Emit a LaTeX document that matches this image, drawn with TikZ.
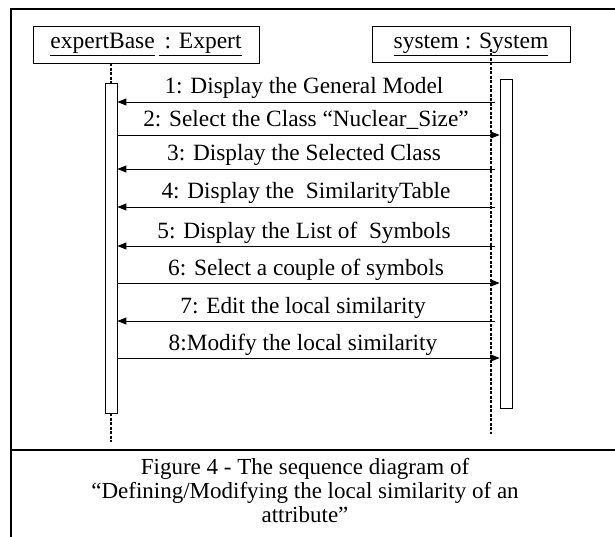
\documentclass[tikz,border=0pt]{standalone}
\usepackage{fontspec}
\setmainfont{Liberation Serif}
\usepackage{tikz}
\usetikzlibrary{arrows.meta,positioning}

\begin{document}
\begin{tikzpicture}[
  x=1pt, y=-1pt,
  objbox/.style={draw, line width=0.8pt, inner sep=0pt, font=\fontsize{23.5}{26}\selectfont},
  actbar/.style={draw, line width=0.8pt, minimum width=12pt, inner sep=0pt},
  lifeline/.style={line width=1.1pt, dash pattern=on 3pt off 1.5pt},
  msg/.style={line width=0.9pt, -{Triangle[length=9pt,width=7pt]}},
  lbl/.style={anchor=base, inner sep=0pt, font=\fontsize{23.3}{26}\selectfont},
  frameline/.style={line width=2pt},
  captext/.style={anchor=north, align=center, inner sep=0pt, font=\fontsize{23}{24}\selectfont}
]
\useasboundingbox (0,0) rectangle (615,537);

% objects
\node[objbox, minimum width=226pt, minimum height=37pt] (expbox) at (146,44.5) {\underline{expertBase}\,\underline{ : Expert}};
\node[objbox, minimum width=198pt, minimum height=36pt] (sysbox) at (471,44) {\underline{system : System}};

% activation bars
\node[actbar, minimum height=330pt] (expbar) at (111,248) {};
\node[actbar, minimum height=329pt] (sysbar) at (506,243.5) {};

% lifelines
\coordinate (expend) at (111,442);
\coordinate (systop) at (491,49);
\coordinate (sysend) at (491,434);
\draw[lifeline] (expbox.south -| expbar) -- (expbar.north);
\draw[lifeline] (expbar.south) -- (expend);
\draw[lifeline] (systop) -- (sysend);

% messages
\coordinate (m1) at (495,102);
\coordinate (m2) at (117,135);
\coordinate (m3) at (495,169);
\coordinate (m4) at (495,207);
\coordinate (m5) at (495,246);
\coordinate (m6) at (117,283);
\coordinate (m7) at (495,321);
\coordinate (m8) at (117,358);
\draw[msg] (m1) -- (expbar.east |- m1);
\draw[msg] (m2) -- (sysbar.west |- m2);
\draw[msg] (m3) -- (expbar.east |- m3);
\draw[msg] (m4) -- (expbar.east |- m4);
\draw[msg] (m5) -- (expbar.east |- m5);
\draw[msg] (m6) -- (sysbar.west |- m6);
\draw[msg] (m7) -- (expbar.east |- m7);
\draw[msg] (m8) -- (sysbar.west |- m8);

\node[lbl] (l1) at (304,94) {1: Display the General Model};
\node[lbl] (l2) at (306,127) {2: Select the Class “Nuclear\_Size”};
\node[lbl] (l3) at (304,161) {3: Display the Selected Class};
\node[lbl] (l4) at (306,199) {4: Display the\ \ SimilarityTable};
\node[lbl] (l5) at (304,238) {5: Display the List of\ \ Symbols};
\node[lbl] (l6) at (306,275) {6: Select a couple of symbols};
\node[lbl] (l7) at (303,313) {7: Edit the local similarity};
\node[lbl] (l8) at (303,350) {8:Modify the local similarity};

% frame and caption
\draw[frameline] (615,9) -- (11,9) -- (11,537);
\draw[frameline] (11,450) -- (615,450);
\node[captext] (caption) at (305,458) {Figure 4 - The sequence diagram of\\“Defining/Modifying the local similarity of an\\attribute”};
\end{tikzpicture}
\end{document}
